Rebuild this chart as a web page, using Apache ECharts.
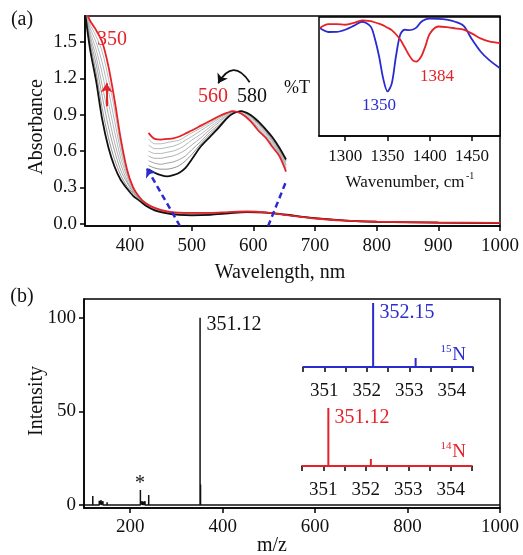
<!DOCTYPE html>
<html>
<head>
<meta charset="utf-8">
<script src="https://cdn.jsdelivr.net/npm/echarts@6/dist/echarts.min.js"></script>
<style>html,body{margin:0;padding:0;background:#fff}#main{width:523px;height:555px}</style>
</head>
<body>
<div id="main"></div>
<script>
// (a) UV-vis spectra, black = start, red = end, greys in between
var wl = [327,335,345,355,365,375,385,395,405,415,425,440,460,480,500,530,560,590,620,650,700,750,800,900,1000];
var absBlack = [1.75,1.45,1.18,0.86,0.63,0.47,0.36,0.29,0.23,0.19,0.15,0.11,0.085,0.072,0.068,0.072,0.085,0.095,0.09,0.075,0.045,0.025,0.015,0.008,0.005];
var absG1 = [1.76,1.50,1.25,0.95,0.71,0.53,0.40,0.31,0.25,0.20,0.16,0.115,0.088,0.074,0.069,0.073,0.086,0.096,0.09,0.074,0.044,0.025,0.015,0.008,0.005];
var absG2 = [1.76,1.53,1.32,1.05,0.80,0.60,0.44,0.34,0.26,0.21,0.16,0.12,0.09,0.076,0.071,0.075,0.088,0.097,0.091,0.074,0.044,0.025,0.015,0.008,0.005];
var absG3 = [1.77,1.56,1.38,1.14,0.90,0.67,0.49,0.36,0.27,0.21,0.17,0.12,0.092,0.078,0.074,0.078,0.09,0.098,0.091,0.073,0.043,0.024,0.015,0.008,0.005];
var absG4 = [1.77,1.59,1.44,1.24,1.00,0.76,0.54,0.39,0.28,0.22,0.17,0.125,0.095,0.082,0.078,0.081,0.092,0.099,0.092,0.073,0.043,0.024,0.015,0.008,0.005];
var absG5 = [1.78,1.62,1.50,1.33,1.10,0.85,0.60,0.41,0.29,0.22,0.17,0.127,0.097,0.085,0.082,0.084,0.093,0.099,0.092,0.072,0.042,0.024,0.015,0.009,0.005];
var absG6 = [1.78,1.65,1.55,1.42,1.20,0.94,0.65,0.43,0.30,0.22,0.17,0.128,0.099,0.087,0.085,0.086,0.094,0.10,0.092,0.072,0.042,0.024,0.015,0.009,0.006];
var absRed = [1.78,1.68,1.60,1.50,1.30,1.02,0.70,0.45,0.30,0.22,0.17,0.13,0.10,0.09,0.088,0.088,0.095,0.10,0.092,0.072,0.042,0.024,0.015,0.009,0.006];

// magnified 430-650 nm region
var wlZoom = [430,440,450,460,470,480,490,500,515,530,545,557,567,580,595,608,620,630,642,653];
var zmBlack = [0.45,0.42,0.40,0.39,0.40,0.42,0.46,0.53,0.64,0.72,0.80,0.87,0.91,0.93,0.90,0.845,0.78,0.72,0.63,0.53];
var zmG1 = [0.48,0.46,0.45,0.45,0.46,0.48,0.52,0.57,0.66,0.74,0.81,0.87,0.91,0.93,0.895,0.835,0.77,0.71,0.62,0.52];
var zmG2 = [0.52,0.50,0.49,0.50,0.51,0.53,0.56,0.61,0.68,0.76,0.82,0.88,0.915,0.93,0.89,0.83,0.765,0.70,0.61,0.51];
var zmG3 = [0.56,0.54,0.54,0.55,0.56,0.58,0.61,0.65,0.71,0.78,0.84,0.89,0.92,0.925,0.885,0.82,0.755,0.69,0.60,0.49];
var zmG4 = [0.60,0.58,0.58,0.59,0.60,0.62,0.65,0.69,0.74,0.80,0.855,0.895,0.925,0.92,0.875,0.81,0.745,0.68,0.59,0.48];
var zmG5 = [0.65,0.62,0.62,0.63,0.64,0.66,0.69,0.72,0.77,0.82,0.87,0.905,0.925,0.915,0.865,0.795,0.73,0.665,0.58,0.46];
var zmG6 = [0.70,0.66,0.66,0.67,0.68,0.69,0.72,0.75,0.79,0.835,0.88,0.91,0.93,0.91,0.86,0.785,0.72,0.655,0.57,0.45];
var zmRed = [0.75,0.70,0.695,0.70,0.705,0.72,0.745,0.77,0.81,0.85,0.89,0.915,0.93,0.91,0.85,0.77,0.71,0.64,0.56,0.43];

// IR inset (%T, arbitrary)
var irWn = [1270,1280,1290,1300,1310,1320,1330,1335,1340,1345,1350,1355,1360,1365,1370,1375,1380,1384,1390,1395,1400,1410,1420,1430,1440,1450,1460,1470,1483];
var irBlue = [90.7,87.4,87.5,89.3,92.5,96,92,82,67,48,37.5,44,67,85,89.3,89,89.5,91,96,98,98.6,98.5,97.8,96,92.5,81,71,64,57];
var irRed = [90.7,94,94,93.5,95,97.2,96.5,95.5,94.4,93,91,89,85.5,81,75,68.5,63.5,62.5,67,76,86,92,91.5,90.5,89.3,86,82,79.5,78];

// (b) mass spectrum
var msMz = [119,133,137,141,150,160,174,222,226,229,232,240,252,326,351.12,352.12,541,552];
var msInt = [4.8,2.3,2.5,2,1.5,1,0.8,8,2,1.8,2,5.3,0.5,0.3,100,11,0.6,0.8];
var n15Mz = [352.15,353.15];
var n15Int = [100,14];
var n14Mz = [351.12,352.12];
var n14Int = [100,12];

var absTicks = [0,0.3,0.6,0.9,1.2,1.5];
var wlTicks = [400,500,600,700,800,900,1000];
var irTicks = [1300,1350,1400,1450];
var mzTicks = [200,400,600,800,1000];
var intTicks = [0,50,100];
var isoTicks = [351,352,353,354];
var isoMinor = [350.5,351,351.5,352,352.5,353,353.5,354,354.5];

var FONT = 'Liberation Serif';
var RED = '#e42228', BLUE = '#2a2ad0';

function pairs(xs, ys) {
    return xs.map(function (x, i) { return [x, ys[i]]; });
}
function sticks(xs, hs, x0, x1) {
    var out = [[x0, 0]];
    xs.forEach(function (x, i) {
        out.push([x, 0], [x, hs[i]], [x, 0]);
    });
    out.push([x1, 0]);
    return out;
}
function plain(v) { return String(v); }
function axisX(idx, min, max, labels, ticks, size, margin) {
    return {
        type: 'value', gridIndex: idx, min: min, max: max,
        axisLine: {show: true, onZero: false, lineStyle: {color: '#000', width: 1.5}},
        axisTick: {show: true, inside: false, length: 5, customValues: ticks || labels, lineStyle: {color: '#000', width: 1.5}},
        axisLabel: {show: true, customValues: labels, margin: margin || 10, color: '#111', fontFamily: FONT, fontSize: size || 19, formatter: plain},
        splitLine: {show: false}
    };
}
function axisY(idx, min, max, labels, fmt) {
    return {
        type: 'value', gridIndex: idx, min: min, max: max,
        axisLine: {show: true, onZero: false, lineStyle: {color: '#000', width: 1.5}},
        axisTick: {show: true, inside: false, length: 5, customValues: labels, lineStyle: {color: '#000', width: 1.5}},
        axisLabel: {show: true, customValues: labels, margin: 8, color: '#111', fontFamily: FONT, fontSize: 19, formatter: fmt || plain},
        splitLine: {show: false}
    };
}
function hiddenY(idx, min, max) {
    return {type: 'value', gridIndex: idx, min: min, max: max, show: false};
}
function ln(data, color, width, xi, smooth) {
    return {
        type: 'line', xAxisIndex: xi, yAxisIndex: xi, data: data, showSymbol: false, symbol: 'none',
        smooth: smooth === undefined ? 0.3 : smooth,
        lineStyle: {color: color, width: width}, silent: true
    };
}
function txt(s, x, y, color, size, extra) {
    var o = {
        type: 'text', x: x, y: y, silent: true,
        style: {text: s, fill: color || '#111', font: (size || 19) + 'px "' + FONT + '"', align: 'center', verticalAlign: 'middle'}
    };
    if (extra) Object.assign(o, extra);
    return o;
}

var greyCols = ['#777', '#8c8c8c', '#999', '#a6a6a6', '#9aa', '#aaa'];
var mainGreys = [absG1, absG2, absG3, absG4, absG5, absG6];
var zoomGreys = [zmG1, zmG2, zmG3, zmG4, zmG5, zmG6];

var series = [];
mainGreys.forEach(function (g, i) { series.push(ln(pairs(wl, g), greyCols[i], 0.8, 0)); });
zoomGreys.forEach(function (g, i) { series.push(ln(pairs(wlZoom, g), greyCols[i], 0.8, 0)); });
series.push(ln(pairs(wl, absBlack), '#111', 1.8, 0));
series.push(ln(pairs(wlZoom, zmBlack), '#111', 1.8, 0));

var redMain = ln(pairs(wl, absRed), RED, 1.8, 0);
redMain.markLine = {
    silent: true, animation: false, label: {show: false}, symbol: ['none', 'arrow'], symbolSize: 9,
    data: [
        [{coord: [481, -0.02], lineStyle: {color: BLUE, width: 2.5, type: [6, 4]}}, {coord: [427, 0.46]}],
        [{coord: [624, -0.02], lineStyle: {color: BLUE, width: 2.5, type: [6, 4]}}, {coord: [654, 0.36], symbol: 'none'}],
        [{coord: [362, 0.97], lineStyle: {color: RED, width: 2, type: 'solid'}}, {coord: [362, 1.16]}]
    ]
};
series.push(redMain);
series.push(ln(pairs(wlZoom, zmRed), RED, 1.8, 0));

// curved arrow 580 -> 560
series.push({
    type: 'lines', coordinateSystem: 'cartesian2d', xAxisIndex: 0, yAxisIndex: 0, silent: true,
    symbol: ['none', 'arrow'], symbolSize: 9,
    lineStyle: {color: '#111', width: 1.8, opacity: 1, curveness: -0.8},
    data: [{coords: [[594, 1.17], [543, 1.16]]}]
});

series.push(ln(pairs(irWn, irBlue), BLUE, 1.8, 1));
series.push(ln(pairs(irWn, irRed), RED, 1.8, 1));

series.push(ln(sticks(msMz, msInt, 100, 1000), '#111', 1.5, 2, false));
series.push(ln(sticks(n15Mz, n15Int, 350.5, 354.5), BLUE, 2, 3, false));
series.push(ln(sticks(n14Mz, n14Int, 350.5, 354.5), RED, 2, 4, false));

var option = {
    animation: false,
    backgroundColor: '#fff',
    grid: [
        {left: 85, top: 16, width: 415, height: 210, show: true, borderColor: '#000', borderWidth: 1.5},
        {left: 319, top: 17, width: 181, height: 119, show: true, borderColor: '#000', borderWidth: 1.5, backgroundColor: '#fff'},
        {left: 84, top: 299, width: 416, height: 209, show: true, borderColor: '#000', borderWidth: 1.5},
        {left: 303, top: 303, width: 170, height: 64},
        {left: 302, top: 408, width: 170, height: 58}
    ],
    xAxis: [
        axisX(0, 327, 1000, wlTicks, null, 19, 11),
        axisX(1, 1269, 1483, irTicks, null, 17, 12),
        axisX(2, 100, 1000, mzTicks, null, 19, 10),
        axisX(3, 350.5, 354.5, isoTicks, isoMinor, 19, 15),
        axisX(4, 350.5, 354.5, isoTicks, isoMinor, 19, 15)
    ],
    yAxis: [
        axisY(0, -0.02, 1.717, absTicks, function (v) { return v.toFixed(1); }),
        hiddenY(1, 0, 100),
        axisY(2, -1.6, 110, intTicks),
        hiddenY(3, 0, 100),
        hiddenY(4, 0, 100)
    ],
    series: series,
    graphic: [
        txt('(a)', 22, 20, '#111', 20),
        txt('Absorbance', 37, 127, '#111', 20, {rotation: Math.PI / 2}),
        txt('Wavelength, nm', 280, 273, '#111', 20),
        txt('350', 112, 40, RED, 20),
        txt('560', 213, 97, RED, 20),
        txt('580', 252, 97, '#111', 20),
        txt('%T', 297, 88, '#111', 18),
        txt('1350', 379, 106, BLUE, 17),
        txt('1384', 437, 77, RED, 17),
        txt('Wavenumber, cm', 405, 183, '#111', 17),
        txt('-1', 466, 176, '#111', 10, {style: {text: '-1', fill: '#111', font: '10px "' + FONT + '"', align: 'left', verticalAlign: 'middle'}}),
        txt('(b)', 22, 297, '#111', 20),
        txt('Intensity', 37, 401, '#111', 20, {rotation: Math.PI / 2}),
        txt('m/z', 272, 546, '#111', 20),
        txt('351.12', 234, 325, '#111', 20),
        txt('*', 140, 484, '#111', 20),
        txt('352.15', 407, 313, BLUE, 20),
        txt('15', 446, 349, BLUE, 11),
        txt('N', 459, 355, BLUE, 19),
        txt('351.12', 362, 418, RED, 20),
        txt('14', 446, 446, RED, 11),
        txt('N', 459, 452, RED, 19)
    ]
};

var chart = echarts.init(document.getElementById('main'));
chart.setOption(option);
</script>
</body>
</html>
